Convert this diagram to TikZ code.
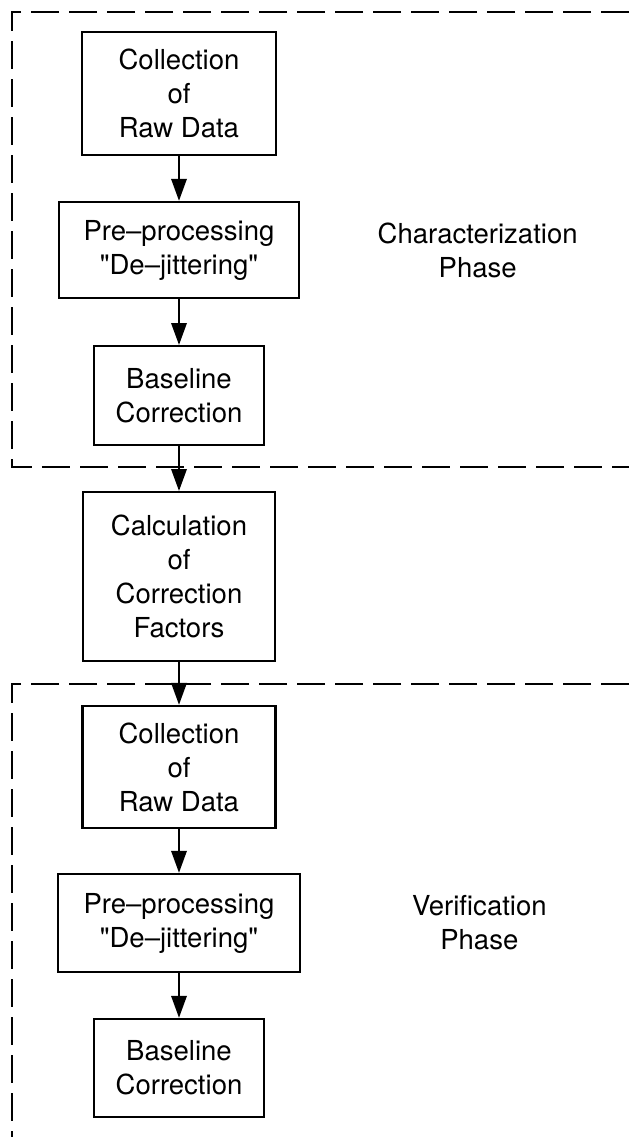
\documentclass[tikz,border=0pt]{standalone}
\usepackage{fontspec}
\setmainfont{TeX Gyre Heros}
\usetikzlibrary{arrows.meta, positioning}

\begin{document}
\begin{tikzpicture}[
  stepbox/.style={draw, line width=2pt, align=center, inner sep=0pt,
    font=\fontsize{23.5}{29}\selectfont},
  flow/.style={-{Triangle[length=6.6mm, width=4.6mm]}, line width=2pt},
  frame/.style={dash pattern=on 8.4mm off 3mm, line width=2pt},
  phase/.style={align=center, font=\fontsize{23.5}{29}\selectfont}]
\def\xc{5.37}
\def\xr{18.87}
\def\xl{0.36}
\useasboundingbox (0,0) rectangle (\xr,-34.11);

% dashed frames, open to the right
\coordinate (P1) at (\xr,-0.36);
\coordinate (P2) at (\xl,-0.36);
\coordinate (P3) at (\xl,-14.01);
\coordinate (P4) at (\xr,-14.01);
\coordinate (Q1) at (\xr,-20.52);
\coordinate (Q2) at (\xl,-20.52);
\coordinate (Q3) at (\xl,-34.2);

\draw[frame] (P1) -- (P2) -- (P3) -- (P4);
\draw[frame] (Q1) -- (Q2) -- (Q3);

% steps
\node[stepbox, minimum width=5.82cm, minimum height=3.69cm] (raw1) at (\xc,-2.8)
  {Collection\\of\\Raw Data};
\node[stepbox, minimum width=7.2cm, minimum height=2.88cm] (pre1) at (\xc,-7.5)
  {Pre--processing\\\textquotedbl De--jittering\textquotedbl};
\node[stepbox, minimum width=5.1cm, minimum height=2.97cm] (base1) at (\xc,-11.87)
  {Baseline\\Correction};
\node[stepbox, minimum width=5.76cm, minimum height=5.07cm] (calc) at (\xc,-17.3)
  {Calculation\\of\\Correction\\Factors};
\node[stepbox, minimum width=5.79cm, minimum height=3.66cm] (raw2) at (\xc,-23.01)
  {Collection\\of\\Raw Data};
\node[stepbox, minimum width=7.26cm, minimum height=2.94cm] (pre2) at (\xc,-27.69)
  {Pre--processing\\\textquotedbl De--jittering\textquotedbl};
\node[stepbox, minimum width=5.1cm, minimum height=2.94cm] (base2) at (\xc,-32.04)
  {Baseline\\Correction};

\node[phase] (charph) at (14.33,-7.5) {Characterization\\Phase};
\node[phase] (verph) at (14.38,-27.69) {Verification\\Phase};

\draw[flow] (raw1) -- (pre1);
\draw[flow] (pre1) -- (base1);
\draw[flow] (base1) -- (calc);
\draw[flow] (calc) -- (raw2);
\draw[flow] (raw2) -- (pre2);
\draw[flow] (pre2) -- (base2);
\end{tikzpicture}
\end{document}
